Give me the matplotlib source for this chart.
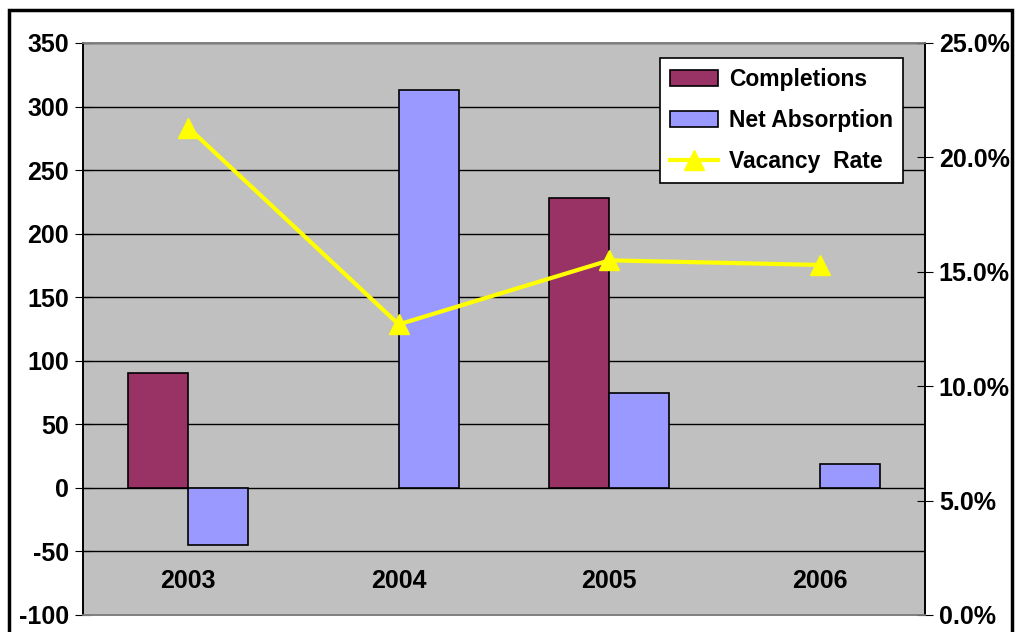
import numpy as np
import matplotlib.pyplot as plt
from matplotlib.patches import Rectangle
from matplotlib.ticker import FuncFormatter

years = ['2003', '2004', '2005', '2006']
completions = [90, np.nan, 228, np.nan]
net_absorption = [-45, 313, 75, 19]
vacancy_rate = [21.3, 12.7, 15.5, 15.3]

plt.rcParams['font.family'] = ['Liberation Sans', 'DejaVu Sans']
plt.rcParams['font.weight'] = 'bold'
plt.rcParams['axes.unicode_minus'] = False

fig = plt.figure(figsize=(10.16, 6.32), dpi=100)
ax = fig.add_axes([0.0817, 0.0269, 0.8287, 0.9051])
ax.set_facecolor('#C0C0C0')

x = np.arange(len(years))
width = 0.285

ax.bar(x - width / 2, completions, width, color='#993366', edgecolor='black',
       linewidth=1.2, label='Completions', zorder=3)
ax.bar(x + width / 2, net_absorption, width, color='#9999FF', edgecolor='black',
       linewidth=1.2, label='Net Absorption', zorder=3)

ax.set_xlim(-0.5, len(years) - 0.5)
ax.set_ylim(-100, 350)
ax.set_yticks(np.arange(-100, 351, 50))
ax.yaxis.grid(True, color='black', linewidth=1)
ax.set_axisbelow(True)
ax.tick_params(axis='y', direction='inout', length=12, labelsize=18, pad=4)
ax.set_xticks(x)
ax.set_xticklabels(years, fontsize=18, fontweight='bold')
ax.tick_params(axis='x', length=0, pad=-33)

ax2 = ax.twinx()
ax2.plot(x, vacancy_rate, color='#FFFF00', linewidth=3, marker='^',
         markersize=14, label='Vacancy  Rate', zorder=4)
ax2.set_ylim(0, 25)
ax2.set_yticks(np.arange(0, 26, 5))
ax2.yaxis.set_major_formatter(FuncFormatter(lambda v, p: f'{v:.1f}%'))
ax2.tick_params(axis='y', direction='inout', length=12, labelsize=18, pad=4)

for a in (ax, ax2):
    a.spines['top'].set_color('#808080')
    a.spines['bottom'].set_color('#808080')
    a.spines['left'].set_color('black')
    a.spines['right'].set_color('black')
    for s in a.spines.values():
        s.set_linewidth(1.2)

h1, l1 = ax.get_legend_handles_labels()
h2, l2 = ax2.get_legend_handles_labels()
leg = ax2.legend(h1 + h2, l1 + l2, loc='upper right', bbox_to_anchor=(0.974, 0.974),
                 fontsize=16.5, frameon=True, fancybox=False, edgecolor='black',
                 framealpha=1, handlelength=2.1, handleheight=0.7,
                 borderpad=0.45, labelspacing=0.78, handletextpad=0.45,
                 borderaxespad=0)
leg.get_frame().set_linewidth(1.2)
for t in leg.get_texts():
    t.set_fontweight('bold')

# outer chart border
fig.patches.append(Rectangle((9 / 1016, -0.01), 1003 / 1016, 1 - 10 / 632 + 0.01,
                             transform=fig.transFigure, fill=False,
                             edgecolor='black', linewidth=2.5))

fig.savefig('out.png', dpi=100)
